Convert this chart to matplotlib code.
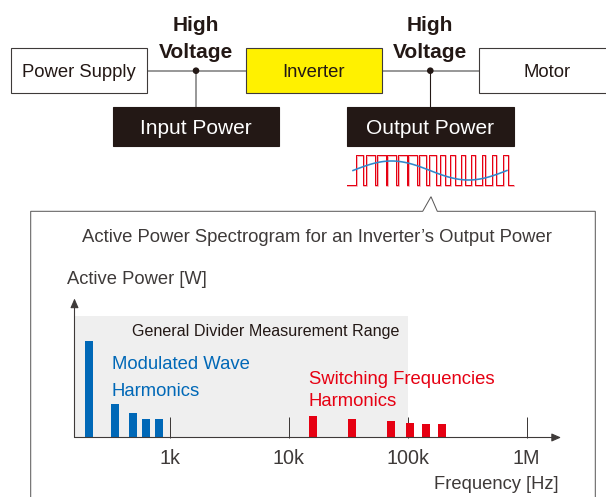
import numpy as np
import matplotlib.pyplot as plt
from matplotlib.patches import Rectangle, Circle
from matplotlib.ticker import NullLocator

plt.rcParams['font.family'] = ['Liberation Sans', 'DejaVu Sans']

# spectrum values (power in arbitrary units)
mod_freq = [210, 350, 490, 630, 820]
mod_power = [97, 34, 25, 19, 19]
sw_freq = [16000, 34000, 72000, 104000, 144000, 193000]
sw_power = [22, 19, 17, 15, 14, 14]
tick_freq = [1e3, 1e4, 1e5, 1e6]
tick_labels = ['1k', '10k', '100k', '1M']
divider_limit = 1e5
divider_top = 121.5

# duty of each carrier period in the little PWM icon
pwm_duty = [0.72, 0.8, 0.85, 0.86, 0.84, 0.8, 0.72, 0.62, 0.52, 0.44,
            0.38, 0.35, 0.36, 0.4, 0.46]

BLUE = '#0068b7'
RED = '#e60012'
INK = '#231815'
GREY = '#3e3a39'
PX = 0.72  # one pixel in points at dpi 100


def box(ax, x0, y0, x1, y1, face, edge=GREY):
    ax.add_patch(Rectangle((x0, y0), x1 - x0, y1 - y0, facecolor=face,
                           edgecolor=edge, lw=1.1 * PX, zorder=2))


fig = plt.figure(figsize=(6.06, 4.97), dpi=100)

# spectrum axes first, the drawing layer goes on top of it
left, right, bottom, top = 74.5, 561, 437.5, 298.5
sp = fig.add_axes([left / 606, (497 - bottom) / 497,
                   (right - left) / 606, (bottom - top) / 497])
sp.set_zorder(0)

ax = fig.add_axes([0, 0, 1, 1])
ax.set_zorder(1)
ax.set_xlim(0, 606)
ax.set_ylim(497, 0)
ax.axis('off')

# block diagram
box(ax, 10.7, 48, 147, 93, 'white')
box(ax, 245.7, 48, 381.7, 93, '#fff100')
box(ax, 479, 48, 620, 93, 'white')
box(ax, 113, 107, 279, 146, INK, INK)
box(ax, 347, 107, 513.7, 146, INK, INK)

ax.plot([147, 245.7], [70.7, 70.7], color='#808080', lw=1.6 * PX, zorder=1)
ax.plot([381.7, 479], [70.7, 70.7], color='#808080', lw=1.6 * PX, zorder=1)
ax.plot([196, 196], [70.7, 107], color='#808080', lw=1.6 * PX, zorder=1)
ax.plot([430.3, 430.3], [70.7, 107], color=INK, lw=1.1 * PX, zorder=1)
ax.add_patch(Circle((196, 70.7), 2.6, color=INK, zorder=3))
ax.add_patch(Circle((430.3, 70.7), 2.6, color=INK, zorder=3))

ax.text(78.8, 76.7, 'Power Supply', ha='center', va='baseline', fontsize=13.3, color=INK)
ax.text(313.7, 76.7, 'Inverter', ha='center', va='baseline', fontsize=13.3, color=INK)
ax.text(547, 76.7, 'Motor', ha='center', va='baseline', fontsize=13.3, color=INK)
ax.text(196, 134, 'Input Power', ha='center', va='baseline', fontsize=15, color='white')
ax.text(430.3, 134, 'Output Power', ha='center', va='baseline', fontsize=15, color='white')
for xc in (196, 430.3):
    ax.text(xc, 30.7, 'High', ha='center', va='baseline', fontsize=15,
            fontweight='bold', color=INK)
    ax.text(xc, 57.5, 'Voltage', ha='center', va='baseline', fontsize=15,
            fontweight='bold', color=INK)

# PWM icon under "Output Power"
x0, period = 355.7, 10.5
hi, lo = 155.3, 185.3
wx, wy = [347.3], [lo]
for k, d in enumerate(pwm_duty):
    r = x0 + k * period
    f = r + d * period
    wx += [r, r, f, f]
    wy += [lo, hi, hi, lo]
wx.append(513.3)
wy.append(lo)
wx = np.array(wx)
wy = np.array(wy)
ax.plot(wx + 1.0, wy + 0.8, color='#f6b3b9', lw=2.0 * PX, zorder=2)
ax.plot(wx, wy, color=RED, lw=1.0 * PX, zorder=3)
sx = np.linspace(353, 507, 120)
sy = 170.5 - 9.5 * np.sin(2 * np.pi * (sx - 353) / 154)
ax.plot(sx, sy, color='#2f88cc', lw=1.6 * PX, zorder=4)

# callout frame
ax.plot([30.7, 30.7, 422.7, 431, 437.3, 595.3, 595.3],
        [505, 211.3, 211.3, 196.7, 211.3, 211.3, 505],
        color='#595757', lw=1.0 * PX, solid_joinstyle='miter', zorder=1)

ax.text(82.3, 242.3, 'Active Power Spectrogram for an Inverter\u2019s Output Power',
        ha='left', va='baseline', fontsize=13.3, color=GREY)
ax.text(66.7, 284.3, 'Active Power [W]', ha='left', va='baseline', fontsize=13.2, color=GREY)
ax.text(559, 489.3, 'Frequency [Hz]', ha='right', va='baseline', fontsize=13.2, color=GREY)

# spectrum
sp.set_xscale('log')
sp.set_xlim(10 ** 2.2, 10 ** 6.29)
sp.set_ylim(0, bottom - top)
sp.set_facecolor('none')
for s in sp.spines.values():
    s.set_visible(False)

sp.fill_between([10 ** 2.2, divider_limit], 0, divider_top, color='#efefef', lw=0, zorder=0)
sp.vlines(mod_freq, 0, mod_power, colors=BLUE, lw=8 * PX, capstyle='butt', zorder=2)
sp.vlines(sw_freq, 0, sw_power, colors=RED, lw=8 * PX, capstyle='butt', zorder=2)

sp.set_xticks(tick_freq)
sp.set_xticklabels(tick_labels)
sp.xaxis.set_minor_locator(NullLocator())
sp.set_yticks([])
sp.tick_params(axis='x', direction='in', length=21.5 * PX, width=1.0 * PX,
               color=GREY, pad=8.5, labelsize=14.2, labelcolor=GREY)

arrow = dict(arrowstyle='-|>,head_length=0.8,head_width=0.35', color=GREY,
             lw=1.1 * PX, mutation_scale=7, shrinkA=0, shrinkB=0)
sp.annotate('', xy=(1, 0), xytext=(0, 0), xycoords='axes fraction',
            arrowprops=arrow, annotation_clip=False)
sp.annotate('', xy=(0, 1), xytext=(0, 0), xycoords='axes fraction',
            arrowprops=arrow, annotation_clip=False)

ax.text(132.3, 336, 'General Divider Measurement Range', ha='left', va='baseline',
        fontsize=11.6, color=INK, zorder=5)
ax.text(111.7, 369.3, 'Modulated Wave', ha='left', va='baseline', fontsize=13.3, color=BLUE)
ax.text(111.7, 395.7, 'Harmonics', ha='left', va='baseline', fontsize=13.3, color=BLUE)
ax.text(309, 384.3, 'Switching Frequencies', ha='left', va='baseline', fontsize=13.3, color=RED)
ax.text(309, 405.7, 'Harmonics', ha='left', va='baseline', fontsize=13.3, color=RED)

fig.savefig('out.png', dpi=100)
